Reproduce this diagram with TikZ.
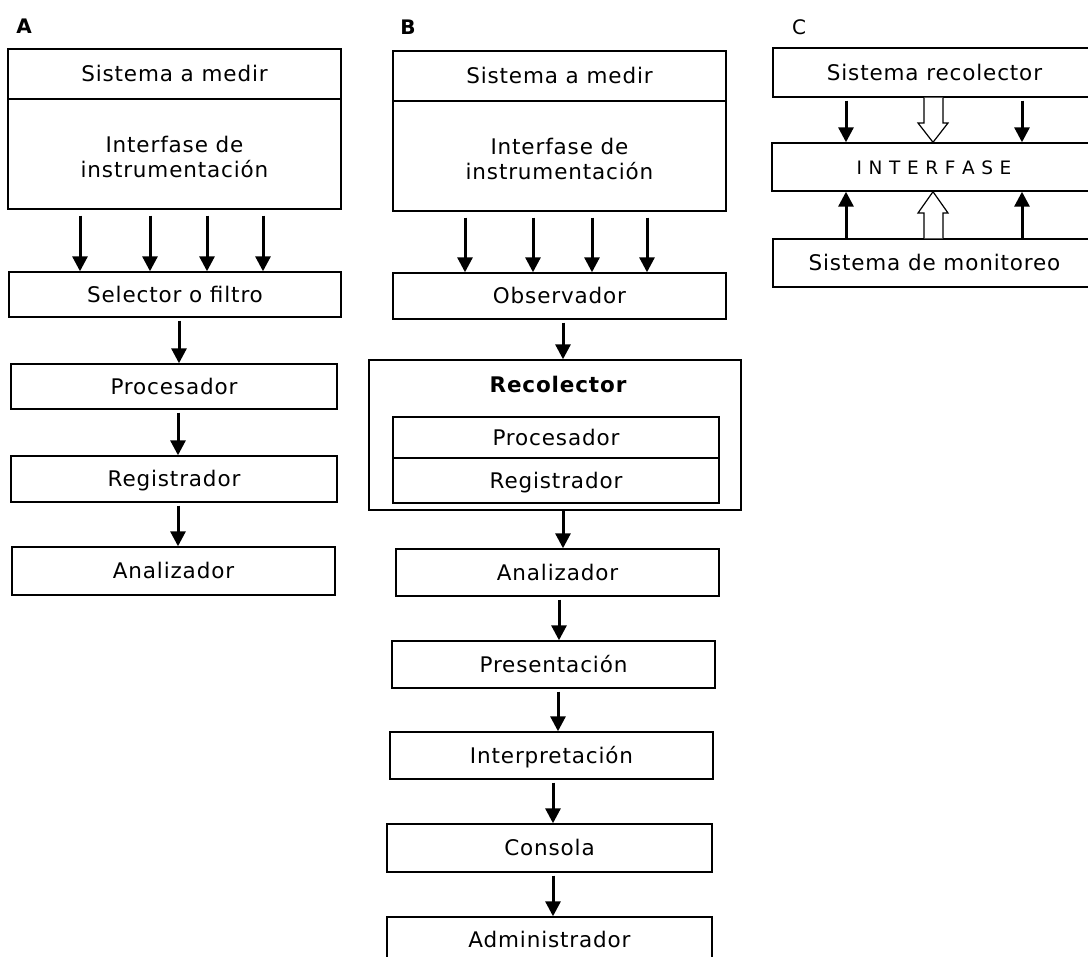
\documentclass[tikz,border=0pt]{standalone}
\usepackage{fontspec}
\setmainfont{DejaVu Sans}[LetterSpace=4]
\usetikzlibrary{arrows.meta}

\begin{document}
\begin{tikzpicture}[x=1pt,y=-1pt,
   every node/.style={font=\fontsize{21.5}{25}\selectfont},
   blk/.style 2 args={draw, line width=1.4pt, inner sep=0pt, minimum width=#1,
      minimum height=#2, text height=15.5pt, text depth=0pt},
   tag/.style={font=\fontsize{20}{20}\selectfont\bfseries},
   arr/.style={line width=3pt, shorten <=3pt, -{Triangle[width=15pt,length=15pt]}},
   hol/.style={line width=1.2pt, fill=white, line join=miter}]
   \useasboundingbox (0,0) rectangle (1088,957);
   \clip (0,0) rectangle (1088,957);

   % A
   \node (A) [tag] at (24,26) {A};
   \node (sisA) [blk={333pt}{50pt}] at (174.5,74) {Sistema a medir};
   \node (ifA) [blk={333pt}{110pt}] at (174.5,154) {};
   \node (ifAt) [align=center] at (174.5,157) {Interfase de\\instrumentación};
   \node (selA) [blk={332pt}{45pt}] at (175,294.5) {Selector o filtro};
   \node (procA) [blk={326pt}{45pt}] at (174,386.5) {Procesador};
   \node (regA) [blk={326pt}{46pt}] at (174,479) {Registrador};
   \node (anaA) [blk={323pt}{48pt}] at (173.5,571) {Analizador};
   \draw[arr, shorten <=6pt] (80,0 |- ifA.south) -- (80,0 |- selA.north);
   \draw[arr, shorten <=6pt] (150,0 |- ifA.south) -- (150,0 |- selA.north);
   \draw[arr, shorten <=6pt] (207,0 |- ifA.south) -- (207,0 |- selA.north);
   \draw[arr, shorten <=6pt] (263,0 |- ifA.south) -- (263,0 |- selA.north);
   \draw[arr] (179,0 |- selA.south) -- (179,0 |- procA.north);
   \draw[arr] (178,0 |- procA.south) -- (178,0 |- regA.north);
   \draw[arr] (178,0 |- regA.south) -- (178,0 |- anaA.north);

   % B
   \node (B) [tag] at (408,27) {B};
   \node (sisB) [blk={333pt}{50pt}] at (559.5,76) {Sistema a medir};
   \node (ifB) [blk={333pt}{110pt}] at (559.5,156) {};
   \node (ifBt) [align=center] at (559.5,159) {Interfase de\\instrumentación};
   \node (obsB) [blk={333pt}{46pt}] at (559.5,296) {Observador};
   \node (recB) [draw, line width=1.4pt, inner sep=0pt, minimum width=372pt,
      minimum height=150pt] at (555,435) {};
   \node (recBt) [font=\fontsize{21.5}{25}\selectfont\bfseries] at (558,384) {Recolector};
   \node (procB) [blk={326pt}{41pt}] at (556,437.5) {Procesador};
   \node (regB) [blk={326pt}{45pt}] at (556,480.5) {Registrador};
   \node (anaB) [blk={323pt}{47pt}] at (557.5,572.5) {Analizador};
   \node (preB) [blk={323pt}{47pt}] at (553.5,664.5) {Presentación};
   \node (intB) [blk={323pt}{47pt}] at (551.5,755.5) {Interpretación};
   \node (conB) [blk={325pt}{48pt}] at (549.5,848) {Consola};
   \node (admB) [blk={325pt}{46pt}] at (549.5,940) {Administrador};
   \draw[arr, shorten <=6pt] (465,0 |- ifB.south) -- (465,0 |- obsB.north);
   \draw[arr, shorten <=6pt] (533,0 |- ifB.south) -- (533,0 |- obsB.north);
   \draw[arr, shorten <=6pt] (592,0 |- ifB.south) -- (592,0 |- obsB.north);
   \draw[arr, shorten <=6pt] (647,0 |- ifB.south) -- (647,0 |- obsB.north);
   \draw[arr] (563,0 |- obsB.south) -- (563,0 |- recB.north);
   \draw[arr, shorten <=0pt] (563,0 |- recB.south) -- (563,0 |- anaB.north);
   \draw[arr] (559,0 |- anaB.south) -- (559,0 |- preB.north);
   \draw[arr] (558,0 |- preB.south) -- (558,0 |- intB.north);
   \draw[arr] (553,0 |- intB.south) -- (553,0 |- conB.north);
   \draw[arr] (553,0 |- conB.south) -- (553,0 |- admB.north);

   % C
   \node (C) [font=\fontsize{20}{20}\selectfont] at (799,27) {C};
   \node (recC) [blk={323pt}{49pt}] at (934.5,72.5) {Sistema recolector};
   \node (intfC) [blk={324pt}{48pt}, font=\fontsize{18.5}{20}\selectfont] at (934,167) {I N T E R F A S E};
   \node (monC) [blk={323pt}{48pt}] at (934.5,263) {Sistema de monitoreo};
   \draw[arr] (846,0 |- recC.south) -- (846,0 |- intfC.north);
   \draw[arr] (1022,0 |- recC.south) -- (1022,0 |- intfC.north);
   \draw[arr, shorten <=0pt] (846,0 |- monC.north) -- (846,0 |- intfC.south);
   \draw[arr, shorten <=0pt] (1022,0 |- monC.north) -- (1022,0 |- intfC.south);
   \draw[hol] (924,0 |- recC.south) -- (924,123) -- (918,123) -- (933,0 |- intfC.north)
      -- (948,123) -- (943,123) -- (943,0 |- recC.south);
   \draw[hol] (924,0 |- monC.north) -- (924,213) -- (918,213) -- (933,0 |- intfC.south)
      -- (948,213) -- (943,213) -- (943,0 |- monC.north);
\end{tikzpicture}
\end{document}
